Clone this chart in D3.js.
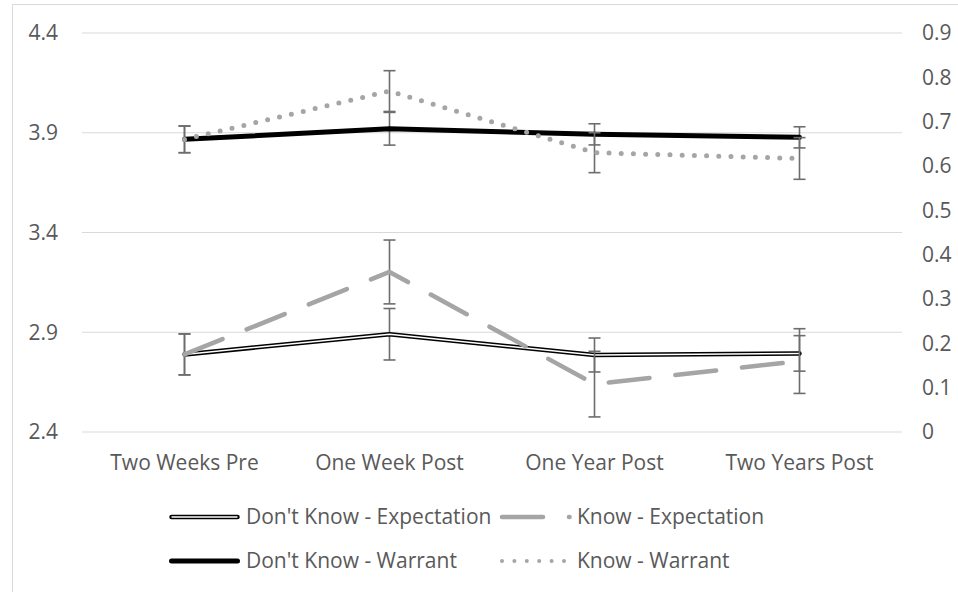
<!DOCTYPE html>
<html>
<head>
<meta charset="utf-8">
<script src="https://cdn.jsdelivr.net/npm/d3@7"></script>
<style>
  body { margin: 0; background: #fff; }
  text { font-family: "Open Sans", sans-serif; fill: #595959; }
</style>
</head>
<body>
<svg width="958" height="592"></svg>
<script>
const categories = ["Two Weeks Pre", "One Week Post", "One Year Post", "Two Years Post"];
// left axis series
const dkExpectation = [2.789, 2.890, 2.786, 2.794];
const dkExpectationErr = [0.103, 0.129, 0.085, 0.089];
const dkWarrant = [3.867, 3.920, 3.892, 3.877];
const dkWarrantErr = [0.067, 0.082, 0.053, 0.053];
// right axis series
const knowExpectation = [0.175, 0.361, 0.108, 0.160];
const knowExpectationErr = [0.046, 0.072, 0.074, 0.073];
const knowWarrant = [0.660, 0.769, 0.630, 0.617];
const knowWarrantErr = [0.030, 0.046, 0.045, 0.047];
const leftTicks = [2.4, 2.9, 3.4, 3.9, 4.4];
const rightTicks = [0, 0.1, 0.2, 0.3, 0.4, 0.5, 0.6, 0.7, 0.8, 0.9];

const FS = 21;
const svg = d3.select("svg");

// chart border
svg.append("rect")
  .attr("x", 12.5).attr("y", 4.5)
  .attr("width", 960).attr("height", 600)
  .attr("fill", "none").attr("stroke", "#d9d9d9");

const x = d3.scaleBand().domain(categories).range([82, 902]);
const cx = d => x(d) + x.bandwidth() / 2;
const yL = d3.scaleLinear().domain([2.4, 4.4]).range([432, 33]);
const yR = d3.scaleLinear().domain([0, 0.9]).range([432, 33]);

// gridlines
svg.append("g").selectAll("line").data(leftTicks).join("line")
  .attr("x1", 82).attr("x2", 902)
  .attr("y1", d => yL(d)).attr("y2", d => yL(d))
  .attr("stroke", "#d9d9d9").attr("stroke-width", 1);

// left tick labels
svg.append("g").selectAll("text").data(leftTicks).join("text")
  .attr("x", 58).attr("y", d => yL(d))
  .attr("dy", "0.35em").attr("text-anchor", "end")
  .attr("font-size", FS)
  .text(d => d.toFixed(1));

// right tick labels
svg.append("g").selectAll("text").data(rightTicks).join("text")
  .attr("x", 922).attr("y", d => yR(d))
  .attr("dy", "0.35em").attr("text-anchor", "start")
  .attr("font-size", FS)
  .text(d => d3.format("")(+d.toFixed(1)));

// category labels
svg.append("g").selectAll("text").data(categories).join("text")
  .attr("x", d => cx(d)).attr("y", 463)
  .attr("dy", "0.35em").attr("text-anchor", "middle")
  .attr("font-size", FS)
  .text(d => d);

function errorBars(vals, errs, y) {
  const g = svg.append("g").attr("stroke", "#6d6d6d").attr("stroke-width", 1.6);
  vals.forEach((v, i) => {
    const px = cx(categories[i]);
    const lo = y(v - errs[i]), hi = y(v + errs[i]);
    g.append("line").attr("x1", px).attr("x2", px).attr("y1", lo).attr("y2", hi);
    g.append("line").attr("x1", px - 6).attr("x2", px + 6).attr("y1", lo).attr("y2", lo);
    g.append("line").attr("x1", px - 6).attr("x2", px + 6).attr("y1", hi).attr("y2", hi);
  });
}

const lineL = d3.line().x((d, i) => cx(categories[i])).y(d => yL(d));
const lineR = d3.line().x((d, i) => cx(categories[i])).y(d => yR(d));

// Don't Know - Expectation (double line)
errorBars(dkExpectation, dkExpectationErr, yL);
svg.append("path").attr("d", lineL(dkExpectation))
  .attr("fill", "none").attr("stroke", "#000").attr("stroke-width", 4.5)
  .attr("stroke-linejoin", "round").attr("stroke-linecap", "round");
svg.append("path").attr("d", lineL(dkExpectation))
  .attr("fill", "none").attr("stroke", "#fff").attr("stroke-width", 1.5)
  .attr("stroke-linejoin", "round");

// Don't Know - Warrant
errorBars(dkWarrant, dkWarrantErr, yL);
svg.append("path").attr("d", lineL(dkWarrant))
  .attr("fill", "none").attr("stroke", "#000").attr("stroke-width", 5)
  .attr("stroke-linejoin", "round").attr("stroke-linecap", "round");

// Know - Expectation (long dash)
errorBars(knowExpectation, knowExpectationErr, yR);
svg.append("path").attr("d", lineR(knowExpectation))
  .attr("fill", "none").attr("stroke", "#a5a5a5").attr("stroke-width", 4.5)
  .attr("stroke-dasharray", "41 26")
  .attr("stroke-linejoin", "round").attr("stroke-linecap", "round");

// Know - Warrant (round dot)
errorBars(knowWarrant, knowWarrantErr, yR);
svg.append("path").attr("d", lineR(knowWarrant))
  .attr("fill", "none").attr("stroke", "#a5a5a5").attr("stroke-width", 5)
  .attr("stroke-dasharray", "0 12.2")
  .attr("stroke-linejoin", "round").attr("stroke-linecap", "round");

// legend
const legend = svg.append("g");
function legendItem(x0, x1, y, tx, label, draw) {
  draw(legend.append("line").attr("x1", x0).attr("x2", x1).attr("y1", y).attr("y2", y));
  legend.append("text").attr("x", tx).attr("y", y).attr("dy", "0.35em")
    .attr("font-size", FS).text(label);
}
legendItem(171.5, 237.5, 517, 246, "Don't Know - Expectation", l => {
  l.attr("stroke", "#000").attr("stroke-width", 4.5).attr("stroke-linecap", "round");
  legend.append("line").attr("x1", 171.5).attr("x2", 237.5).attr("y1", 517).attr("y2", 517)
    .attr("stroke", "#fff").attr("stroke-width", 1.5);
});
legendItem(502, 569.6, 517, 577, "Know - Expectation", l => {
  l.attr("stroke", "#a5a5a5").attr("stroke-width", 4.5)
    .attr("stroke-dasharray", "41 26").attr("stroke-linecap", "round");
});
legendItem(171.5, 237.5, 561, 246, "Don't Know - Warrant", l => {
  l.attr("stroke", "#000").attr("stroke-width", 5).attr("stroke-linecap", "round");
});
legendItem(502, 565, 561, 577, "Know - Warrant", l => {
  l.attr("stroke", "#a5a5a5").attr("stroke-width", 4)
    .attr("stroke-dasharray", "0 12.4").attr("stroke-linecap", "round");
});
</script>
</body>
</html>
